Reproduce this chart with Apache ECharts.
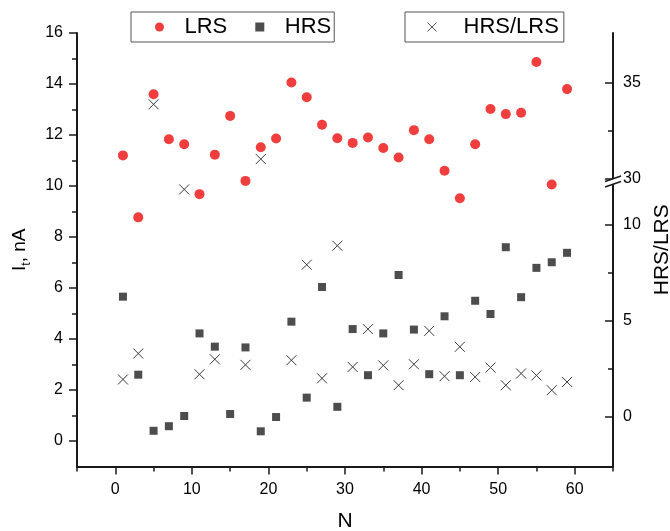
<!DOCTYPE html>
<html>
<head>
<meta charset="utf-8">
<script src="https://cdn.jsdelivr.net/npm/echarts@6.0.0/dist/echarts.min.js"></script>
<style>
    html, body { margin: 0; padding: 0; background: #fff; }
    #main { width: 670px; height: 531px; }
</style>
</head>
<body>
<div id="main"></div>
<script>
    // cycle number N
    var cycles = [1, 3, 5, 7, 9, 11, 13, 15, 17, 19, 21, 23, 25, 27, 29,
                  31, 33, 35, 37, 39, 41, 43, 45, 47, 49, 51, 53, 55, 57, 59];
    // I_t, nA
    var lrs = [11.2, 8.77, 13.6, 11.83, 11.64, 9.68, 11.23, 12.75, 10.2, 11.52, 11.86, 14.06, 13.48, 12.4, 11.87,
               11.69, 11.9, 11.49, 11.12, 12.19, 11.83, 10.6, 9.52, 11.64, 13.02, 12.82, 12.87, 14.86, 10.06, 13.8];
    var hrs = [5.66, 2.6, 0.4, 0.58, 0.98, 4.22, 3.7, 1.06, 3.67, 0.38, 0.94, 4.68, 1.7, 6.04, 1.34,
               4.39, 2.58, 4.22, 6.51, 4.37, 2.62, 4.89, 2.58, 5.5, 4.98, 7.6, 5.64, 6.79, 7.01, 7.38];
    // HRS/LRS (right axis), null = not plotted
    var ratio = [1.93, 3.28, 33.89, null, 11.82, 2.2, 2.98, null, 2.69, 31.04, null, 2.93, 7.9, 1.99, 8.89,
                 2.58, 4.55, 2.66, 1.63, 2.72, 4.46, 2.1, 3.63, 2.06, 2.55, 1.63, 2.24, 2.14, 1.37, 1.8];

    var xLabels = [0, 10, 20, 30, 40, 50, 60];
    var xMinor = [-5, 5, 15, 25, 35, 45, 55, 65];
    var yLabels = [0, 2, 4, 6, 8, 10, 12, 14, 16];
    var yMinor = [1, 3, 5, 7, 9, 11, 13, 15];
    var rLabels = [0, 5, 10, 30, 35];
    var rMinor = [2.5, 7.5, 32.5];

    var font = '"Liberation Sans", Arial, sans-serif';
    var crossPath = 'path://M0,0L10,10M10,0L0,10';
    var squarePath = 'path://M0,0L10,0L10,10L0,10Z';
    var axisColor = '#1a1a1a';

    function pairs(ys) {
        var out = [];
        for (var i = 0; i < cycles.length; i++) {
            if (ys[i] !== null) out.push([cycles[i], ys[i]]);
        }
        return out;
    }

    var rBreaks = [{start: 12.36, end: 30, gap: 0}];
    var tickStyle = {color: axisColor, width: 1.5};

    var myChart = echarts.init(document.getElementById('main'));
    var option = {
        animation: false,
        textStyle: {fontFamily: font},
        grid: {left: 77, right: 57, top: 33, bottom: 64.5, outerBoundsMode: 'none', containLabel: false},
        legend: [
            {
                data: [
                    {name: 'LRS', icon: 'circle'},
                    {name: 'HRS', icon: squarePath}
                ],
                left: 131, top: 12,
                itemWidth: 40, itemHeight: 9, itemGap: 28,
                padding: [4, 3, 4, 24],
                borderColor: '#555', borderWidth: 1,
                textStyle: {fontSize: 22, color: '#000', fontFamily: font}
            },
            {
                data: [{
                    name: 'HRS/LRS', icon: crossPath,
                    itemStyle: {color: 'none', borderColor: '#555', borderWidth: 1}
                }],
                left: 405, top: 12,
                itemWidth: 53, itemHeight: 9,
                padding: [4, 5, 4, 20],
                borderColor: '#555', borderWidth: 1,
                textStyle: {fontSize: 22, color: '#000', fontFamily: font}
            }
        ],
        xAxis: [
            {
                type: 'value', min: -5, max: 65, position: 'bottom',
                name: 'N', nameLocation: 'middle', nameGap: 44,
                nameTextStyle: {fontSize: 21, color: '#000'},
                axisLine: {onZero: false, lineStyle: {color: axisColor, width: 2}},
                axisTick: {show: true, customValues: xLabels, length: 8, lineStyle: tickStyle},
                axisLabel: {customValues: xLabels, fontSize: 16, color: '#000', margin: 15},
                splitLine: {show: false}
            },
            {
                type: 'value', min: -5, max: 65, position: 'bottom',
                axisLine: {show: false, onZero: false},
                axisTick: {show: true, customValues: xMinor, length: 5, lineStyle: tickStyle},
                axisLabel: {show: false},
                splitLine: {show: false}
            }
        ],
        yAxis: [
            {
                type: 'value', min: -1, max: 16, position: 'left',
                name: '{a|I}{b|t}{a|, nA}', nameLocation: 'middle', nameGap: 44, nameRotate: 90,
                nameTextStyle: {
                    color: '#000',
                    rich: {
                        a: {fontSize: 19, lineHeight: 26, color: '#000', fontFamily: font},
                        b: {fontSize: 12, lineHeight: 12, verticalAlign: 'bottom', color: '#000', fontFamily: font}
                    }
                },
                axisLine: {show: true, onZero: false, lineStyle: {color: axisColor, width: 2}},
                axisTick: {show: true, customValues: yLabels, length: 8, lineStyle: tickStyle},
                axisLabel: {customValues: yLabels, fontSize: 16, color: '#000', margin: 14},
                splitLine: {show: false}
            },
            {
                type: 'value', min: -1, max: 16, position: 'left',
                axisLine: {show: false, onZero: false},
                axisTick: {show: true, customValues: yMinor, length: 5, lineStyle: tickStyle},
                axisLabel: {show: false},
                splitLine: {show: false}
            },
            {
                type: 'value', min: -2.6, max: 37.6, position: 'right',
                breaks: rBreaks,
                breakArea: {show: false},
                name: 'HRS/LRS', nameLocation: 'middle', nameGap: 33, nameRotate: 90,
                nameTextStyle: {fontSize: 21, color: '#000'},
                axisLine: {show: true, onZero: false, lineStyle: {color: axisColor, width: 2}},
                axisTick: {show: true, inside: true, customValues: rLabels, length: 8, lineStyle: tickStyle},
                axisLabel: {customValues: rLabels, fontSize: 16, color: '#000', margin: 10},
                splitLine: {show: false}
            },
            {
                type: 'value', min: -2.6, max: 37.6, position: 'right',
                breaks: rBreaks,
                breakArea: {show: false},
                axisLine: {show: false, onZero: false},
                axisTick: {show: true, inside: true, customValues: rMinor, length: 5, lineStyle: tickStyle},
                axisLabel: {show: false},
                splitLine: {show: false}
            }
        ],
        series: [
            {
                name: 'LRS', type: 'scatter', xAxisIndex: 0, yAxisIndex: 0,
                symbol: 'circle', symbolSize: 10,
                itemStyle: {color: '#F03E3E', opacity: 1},
                data: pairs(lrs)
            },
            {
                name: 'HRS', type: 'scatter', xAxisIndex: 0, yAxisIndex: 0,
                symbol: 'rect', symbolSize: 8,
                itemStyle: {color: '#4D4D4D', opacity: 1},
                data: pairs(hrs)
            },
            {
                name: 'HRS/LRS', type: 'scatter', xAxisIndex: 0, yAxisIndex: 2,
                symbol: crossPath, symbolSize: 10,
                itemStyle: {color: 'none', borderColor: '#3a3a3a', borderWidth: 1, opacity: 1},
                data: pairs(ratio)
            }
        ]
    };
    myChart.setOption(option);

    // break mark "//" on the right axis at the 30 position
    var bx = myChart.convertToPixel({xAxisIndex: 0}, 65);
    var by = myChart.convertToPixel({yAxisIndex: 2}, 30);
    myChart.setOption({
        graphic: [
            {type: 'rect', shape: {x: bx - 3, y: by, width: 6, height: 5}, style: {fill: '#fff'}, z: 100},
            {type: 'line', shape: {x1: bx - 8, y1: by + 2.5, x2: bx + 8, y2: by - 3}, style: {stroke: axisColor, lineWidth: 1.5}, z: 101},
            {type: 'line', shape: {x1: bx - 8, y1: by + 8, x2: bx + 8, y2: by + 2.5}, style: {stroke: axisColor, lineWidth: 1.5}, z: 101}
        ]
    });
</script>
</body>
</html>
